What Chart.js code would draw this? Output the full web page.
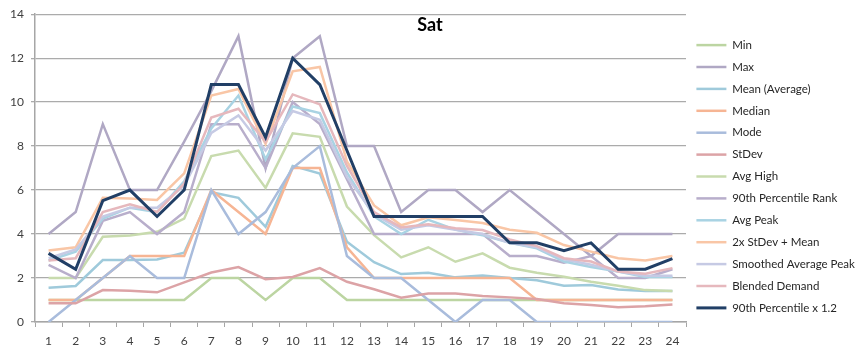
<!DOCTYPE html>
<html>
<head>
<meta charset="utf-8">
<script src="https://cdn.jsdelivr.net/npm/chart.js@4.4.1/dist/chart.umd.min.js"></script>
<style>
  html, body { margin: 0; padding: 0; background: #fff; }
  #wrap { width: 860px; height: 361px; }
</style>
</head>
<body>
<div id="wrap"><canvas id="c" width="860" height="361"></canvas></div>
<script>
const chartTitle = "Sat";
const hours = ["1","2","3","4","5","6","7","8","9","10","11","12","13","14","15","16","17","18","19","20","21","22","23","24"];
const yTicks = [0, 2, 4, 6, 8, 10, 12, 14];

const minVals      = [1, 1, 1, 1, 1, 1, 2, 2, 1, 2, 2, 1, 1, 1, 1, 1, 1, 1, 1, 1, 1, 1, 1, 1];
const maxVals      = [4, 5, 9, 6, 6, 8.2, 10.5, 13, 7, 12, 13, 8, 8, 5, 6, 6, 5, 6, 5, 4, 3, 4, 4, 4];
const meanVals     = [1.56, 1.64, 2.82, 2.82, 2.84, 3.15, 5.9, 5.65, 4.33, 7.1, 6.75, 3.65, 2.72, 2.18, 2.24, 2.03, 2.12, 2.0, 1.9, 1.65, 1.68, 1.48, 1.41, 1.41];
const medianVals   = [1, 1, 2, 3, 3, 3, 6, 5, 4, 7, 7, 3.4, 2, 2, 2, 2, 2, 2, 1, 1, 1, 1, 1, 1];
const modeVals     = [0, 1, 2, 3, 2, 2, 6, 4, 5, 7, 8, 3, 2, 2, 1, 0, 1, 1, 0, 0, 0, 0, 0, 0];
const stdevVals    = [0.85, 0.85, 1.45, 1.42, 1.35, 1.8, 2.25, 2.5, 1.95, 2.05, 2.45, 1.83, 1.49, 1.1, 1.3, 1.3, 1.18, 1.12, 1.05, 0.85, 0.77, 0.67, 0.72, 0.8];
const avgHighVals  = [2.0, 2.0, 3.88, 3.93, 4.1, 4.7, 7.55, 7.8, 6.1, 8.58, 8.42, 5.25, 3.95, 2.94, 3.4, 2.74, 3.12, 2.47, 2.24, 2.06, 1.83, 1.65, 1.45, 1.41];
const p90RankVals  = [2.6, 2.0, 4.6, 5.0, 4.0, 5.0, 9.0, 9.0, 7.0, 10.0, 9.0, 6.5, 4.0, 4.0, 4.0, 4.0, 4.0, 3.0, 3.0, 2.7, 3.0, 2.0, 2.0, 2.4];
const avgPeakVals  = [2.8, 3.2, 4.7, 5.2, 5.0, 6.4, 8.8, 10.3, 7.4, 9.8, 9.5, 6.8, 4.8, 4.0, 4.65, 4.2, 3.95, 3.6, 3.35, 2.75, 2.5, 2.3, 2.05, 2.05];
const sdMeanVals   = [3.25, 3.4, 5.65, 5.62, 5.55, 6.76, 10.3, 10.6, 8.1, 11.4, 11.6, 7.3, 5.3, 4.4, 4.76, 4.64, 4.5, 4.2, 4.06, 3.5, 3.2, 2.9, 2.8, 3.0];
const smoothedVals = [2.9, 3.3, 4.8, 5.2, 5.2, 6.2, 8.6, 9.4, 7.8, 9.6, 9.2, 6.6, 4.9, 4.2, 4.4, 4.2, 4.0, 3.6, 3.4, 2.85, 2.6, 2.3, 2.1, 2.1];
const blendedVals  = [2.8, 2.9, 5.0, 5.35, 5.0, 6.3, 9.3, 9.7, 8.2, 10.35, 9.9, 7.1, 5.0, 4.3, 4.45, 4.26, 4.18, 3.75, 3.45, 2.9, 2.75, 2.3, 2.2, 2.45];
const p90x12Vals   = [3.12, 2.4, 5.52, 6.0, 4.8, 6.0, 10.8, 10.8, 8.4, 12.0, 10.8, 7.8, 4.8, 4.8, 4.8, 4.8, 4.8, 3.6, 3.6, 3.24, 3.6, 2.4, 2.4, 2.88];

const seriesNames = ["Min", "Max", "Mean (Average)", "Median", "Mode", "StDev", "Avg High",
  "90th Percentile Rank", "Avg Peak", "2x StDev + Mean", "Smoothed Average Peak", "Blended Demand", "90th Percentile x 1.2"];
const seriesData = [minVals, maxVals, meanVals, medianVals, modeVals, stdevVals, avgHighVals,
  p90RankVals, avgPeakVals, sdMeanVals, smoothedVals, blendedVals, p90x12Vals];
const seriesColors = ["#bcd5a2", "#b0a8c4", "#9fcadb", "#f6b594", "#a9bcdc", "#dca3a6", "#c8dbae",
  "#b8aecb", "#a9d3e3", "#f9c6a6", "#c6cae4", "#e6b8bd", "#213f66"];

const datasets = seriesNames.map((name, i) => ({
  label: name,
  data: seriesData[i],
  borderColor: seriesColors[i],
  backgroundColor: seriesColors[i],
  borderWidth: i === 12 ? 3 : 2.5,
  pointRadius: 0,
  pointHoverRadius: 0,
  tension: 0,
  fill: false,
  order: seriesNames.length - 1 - i
}));

const titlePlugin = {
  id: 'overlayTitle',
  afterLayout(chart) {
    if (chart.legend) {
      chart.legend.top -= 11;
      chart.legend.bottom -= 11;
    }
  },
  afterDraw(chart) {
    const ctx = chart.ctx;
    ctx.save();
    ctx.font = "bold 18px Lato, 'Open Sans', sans-serif";
    ctx.fillStyle = "#000";
    ctx.textAlign = "center";
    ctx.textBaseline = "middle";
    ctx.fillText(chartTitle, 430, 25);
    ctx.restore();
  }
};

new Chart(document.getElementById('c'), {
  type: 'line',
  data: { labels: hours, datasets },
  plugins: [titlePlugin],
  options: {
    responsive: false,
    animation: false,
    events: [],
    layout: { padding: { left: 0, right: 0, top: 14, bottom: 0 } },
    plugins: {
      title: { display: false },
      tooltip: { enabled: false },
      legend: {
        position: 'right',
        align: 'center',
        maxWidth: 174,
        labels: {
          usePointStyle: true,
          pointStyle: 'line',
          pointStyleWidth: 30,
          padding: 10.4,
          color: '#262626',
          sort: (a, b) => a.datasetIndex - b.datasetIndex,
          font: { family: "Lato, 'Open Sans', sans-serif", size: 11.5 }
        }
      }
    },
    scales: {
      x: {
        offset: true,
        afterFit(scale) { scale.height = 39; },
        grid: { offset: true, drawOnChartArea: false, drawTicks: true, tickLength: 5, color: '#a6a6a6', lineWidth: 1 },
        border: { display: true, color: '#a6a6a6', width: 1.5 },
        ticks: { color: '#404040', padding: 7, maxRotation: 0, autoSkip: false, font: { family: "Lato, 'Open Sans', sans-serif", size: 12 } }
      },
      y: {
        min: 0,
        max: 14,
        afterFit(scale) { scale.width = 35; },
        afterBuildTicks(scale) { scale.ticks = yTicks.map(v => ({ value: v })); },
        grid: { color: '#ababab', lineWidth: 1.3, drawTicks: true, tickLength: 4 },
        border: { display: true, color: '#a6a6a6', width: 1.5 },
        ticks: { color: '#404040', padding: 7, font: { family: "Lato, 'Open Sans', sans-serif", size: 12 } }
      }
    }
  }
});
</script>
</body>
</html>
